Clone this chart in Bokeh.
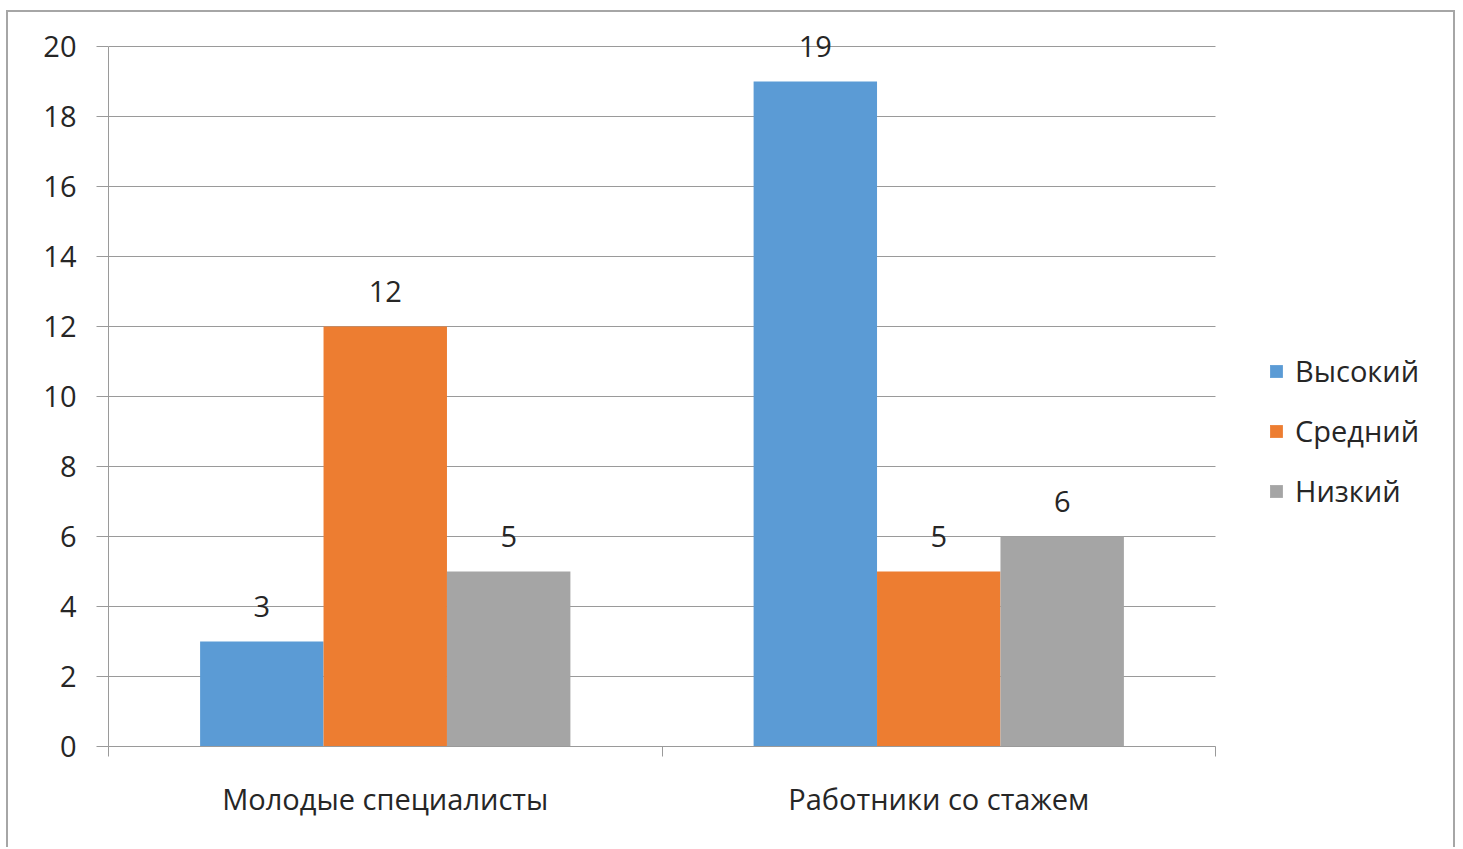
from bokeh.plotting import figure
from bokeh.models import ColumnDataSource, FixedTicker, Legend, LegendItem, Range1d
from bokeh.core.properties import value
from bokeh.embed import file_html
from bokeh.resources import INLINE

categories = ["Молодые специалисты", "Работники со стажем"]
series_names = ["Высокий", "Средний", "Низкий"]
high = [3, 19]
medium = [12, 5]
low = [5, 6]
y_ticks = [0, 2, 4, 6, 8, 10, 12, 14, 16, 18, 20]

colors = ["#5B9BD5", "#ED7D31", "#A5A5A5"]
FONT = "Open Sans"
FS = "29px"
TEXT_COLOR = "#262626"
AXIS_COLOR = "#9a9a9a"
bar_w = 0.223
offsets = [-bar_w, 0.0, bar_w]

# The frame reaches past the category area so the legend and value labels
# stay inside it; axes are bounded to the data extent.
n_cat = len(categories)
y_max = max(y_ticks)
px_per_cat = 553.5
px_per_unit = 35.0
frame_w = 1345
frame_h = 730

p = figure(frame_width=frame_w, frame_height=frame_h,
           output_backend="svg", toolbar_location=None,
           x_range=Range1d(0, frame_w / px_per_cat),
           y_range=Range1d(0, frame_h / px_per_unit),
           min_border_left=100, min_border_right=0, min_border_top=4,
           min_border_bottom=101)
p.margin = (10, 0, 0, 6)
p.styles = {"border-top": "2px solid #a6a6a6", "border-left": "2px solid #a6a6a6",
            "border-right": "2px solid #a6a6a6"}
p.outline_line_color = None
p.background_fill_color = "white"
p.border_fill_color = "white"
p.xgrid.grid_line_color = None
p.ygrid.grid_line_color = None

# horizontal gridlines over the category area
p.segment(x0=[0] * len(y_ticks), x1=[n_cat] * len(y_ticks), y0=y_ticks, y1=y_ticks,
          line_color=AXIS_COLOR, line_width=1)

centers = [i + 0.5 for i in range(n_cat)]
items = []
for vals, name, color, off in zip([high, medium, low], series_names, colors, offsets):
    src = ColumnDataSource(dict(x=[c + off for c in centers], top=vals,
                                label=[str(v) for v in vals]))
    r = p.vbar(x="x", top="top", width=bar_w, source=src, fill_color=color,
               line_color=None)
    p.text(x="x", y="top", text="label", source=src, text_align="center",
           text_baseline="alphabetic", y_offset=-35,
           text_font=value(FONT), text_font_size=FS, text_color=TEXT_COLOR)
    items.append(LegendItem(label=name, renderers=[r]))

# y axis
p.yaxis.ticker = FixedTicker(ticks=y_ticks)
p.yaxis.bounds = (0, y_max)
p.yaxis.axis_line_color = AXIS_COLOR
p.yaxis.major_tick_line_color = AXIS_COLOR
p.yaxis.major_tick_out = 12
p.yaxis.major_tick_in = 0
p.yaxis.minor_tick_line_color = None
p.yaxis.major_label_standoff = 20
p.yaxis.major_label_text_font = FONT
p.yaxis.major_label_text_font_size = FS
p.yaxis.major_label_text_color = TEXT_COLOR

# x axis: category names in the middle, tick marks on the boundaries
p.xaxis.ticker = FixedTicker(ticks=centers, minor_ticks=list(range(n_cat + 1)))
p.xaxis.bounds = (0, n_cat)
p.xaxis.major_label_overrides = {c: name for c, name in zip(centers, categories)}
p.xaxis.axis_line_color = AXIS_COLOR
p.xaxis.major_tick_line_color = None
p.xaxis.minor_tick_line_color = AXIS_COLOR
p.xaxis.minor_tick_out = 10
p.xaxis.minor_tick_in = 0
p.xaxis.major_label_standoff = 22
p.xaxis.major_label_text_font = FONT
p.xaxis.major_label_text_font_size = FS
p.xaxis.major_label_text_color = TEXT_COLOR

legend = Legend(items=items, location=(1160, 236), orientation="vertical",
                glyph_width=16, glyph_height=16, spacing=21, padding=0, margin=0,
                label_text_font=FONT, label_text_font_size=FS,
                label_text_color=TEXT_COLOR, label_standoff=11,
                border_line_color=None, background_fill_alpha=0)
p.add_layout(legend, "center")

open("out.html", "w").write(file_html(p, INLINE))
